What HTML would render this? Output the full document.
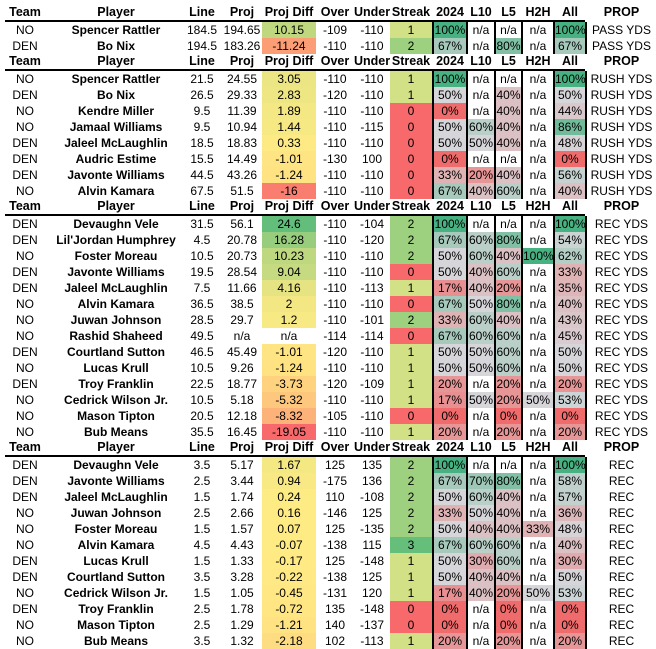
<!DOCTYPE html>
<html><head><meta charset="utf-8"><style>
body{margin:0;background:#fff;width:656px;height:648px;overflow:hidden;font-family:"Liberation Sans",Arial,sans-serif;font-size:12px;color:#000}
#w{position:absolute;top:5px;left:0;width:656px}
.r,.h{display:grid;grid-template-columns:50px 132px 40px 40px 54px 38px 36px 42px 2px 32px 2px 26px 2px 25px 2px 30px 2px 30px 2px 69px;height:16px;line-height:16px;text-align:center;white-space:nowrap}
.h{height:17px;line-height:15px;font-weight:bold;position:relative;font-size:12.5px}
.h:after{content:"";position:absolute;left:5px;width:580px;bottom:0;height:2px;background:#000}
.r i,.h i{font-style:normal;overflow:visible}
.r b{font-weight:bold}
.r u{background:#000}
.h u{background:transparent}
</style></head><body><div id="w">
<div class="h"><i>Team</i><i>Player</i><i>Line</i><i>Proj</i><i>Proj Diff</i><i>Over</i><i>Under</i><i>Streak</i><u></u><i>2024</i><u></u><i>L10</i><u></u><i>L5</i><u></u><i>H2H</i><u></u><i>All</i><u></u><i>PROP</i></div>
<div class="r"><i>NO</i><b>Spencer Rattler</b><i>184.5</i><i>194.65</i><i class="d">10.15</i><i>-109</i><i>-110</i><i class="s">1</i><u></u><i class="p">100%</i><u></u><i class="p">n/a</i><u></u><i class="p">n/a</i><u></u><i class="p">n/a</i><u></u><i class="p">100%</i><u></u><i>PASS YDS</i></div>
<div class="r"><i>DEN</i><b>Bo Nix</b><i>194.5</i><i>183.26</i><i class="d">-11.24</i><i>-110</i><i>-110</i><i class="s">2</i><u></u><i class="p">67%</i><u></u><i class="p">n/a</i><u></u><i class="p">80%</i><u></u><i class="p">n/a</i><u></u><i class="p">67%</i><u></u><i>PASS YDS</i></div>
<div class="h"><i>Team</i><i>Player</i><i>Line</i><i>Proj</i><i>Proj Diff</i><i>Over</i><i>Under</i><i>Streak</i><u></u><i>2024</i><u></u><i>L10</i><u></u><i>L5</i><u></u><i>H2H</i><u></u><i>All</i><u></u><i>PROP</i></div>
<div class="r"><i>NO</i><b>Spencer Rattler</b><i>21.5</i><i>24.55</i><i class="d">3.05</i><i>-110</i><i>-110</i><i class="s">1</i><u></u><i class="p">100%</i><u></u><i class="p">n/a</i><u></u><i class="p">n/a</i><u></u><i class="p">n/a</i><u></u><i class="p">100%</i><u></u><i>RUSH YDS</i></div>
<div class="r"><i>DEN</i><b>Bo Nix</b><i>26.5</i><i>29.33</i><i class="d">2.83</i><i>-120</i><i>-110</i><i class="s">1</i><u></u><i class="p">50%</i><u></u><i class="p">n/a</i><u></u><i class="p">40%</i><u></u><i class="p">n/a</i><u></u><i class="p">50%</i><u></u><i>RUSH YDS</i></div>
<div class="r"><i>NO</i><b>Kendre Miller</b><i>9.5</i><i>11.39</i><i class="d">1.89</i><i>-110</i><i>-110</i><i class="s">0</i><u></u><i class="p">0%</i><u></u><i class="p">n/a</i><u></u><i class="p">40%</i><u></u><i class="p">n/a</i><u></u><i class="p">44%</i><u></u><i>RUSH YDS</i></div>
<div class="r"><i>NO</i><b>Jamaal Williams</b><i>9.5</i><i>10.94</i><i class="d">1.44</i><i>-110</i><i>-115</i><i class="s">0</i><u></u><i class="p">50%</i><u></u><i class="p">60%</i><u></u><i class="p">40%</i><u></u><i class="p">n/a</i><u></u><i class="p">86%</i><u></u><i>RUSH YDS</i></div>
<div class="r"><i>DEN</i><b>Jaleel McLaughlin</b><i>18.5</i><i>18.83</i><i class="d">0.33</i><i>-110</i><i>-110</i><i class="s">0</i><u></u><i class="p">50%</i><u></u><i class="p">50%</i><u></u><i class="p">40%</i><u></u><i class="p">n/a</i><u></u><i class="p">48%</i><u></u><i>RUSH YDS</i></div>
<div class="r"><i>DEN</i><b>Audric Estime</b><i>15.5</i><i>14.49</i><i class="d">-1.01</i><i>-130</i><i>100</i><i class="s">0</i><u></u><i class="p">0%</i><u></u><i class="p">n/a</i><u></u><i class="p">n/a</i><u></u><i class="p">n/a</i><u></u><i class="p">0%</i><u></u><i>RUSH YDS</i></div>
<div class="r"><i>DEN</i><b>Javonte Williams</b><i>44.5</i><i>43.26</i><i class="d">-1.24</i><i>-110</i><i>-110</i><i class="s">0</i><u></u><i class="p">33%</i><u></u><i class="p">20%</i><u></u><i class="p">40%</i><u></u><i class="p">n/a</i><u></u><i class="p">56%</i><u></u><i>RUSH YDS</i></div>
<div class="r"><i>NO</i><b>Alvin Kamara</b><i>67.5</i><i>51.5</i><i class="d">-16</i><i>-110</i><i>-110</i><i class="s">0</i><u></u><i class="p">67%</i><u></u><i class="p">40%</i><u></u><i class="p">60%</i><u></u><i class="p">n/a</i><u></u><i class="p">40%</i><u></u><i>RUSH YDS</i></div>
<div class="h"><i>Team</i><i>Player</i><i>Line</i><i>Proj</i><i>Proj Diff</i><i>Over</i><i>Under</i><i>Streak</i><u></u><i>2024</i><u></u><i>L10</i><u></u><i>L5</i><u></u><i>H2H</i><u></u><i>All</i><u></u><i>PROP</i></div>
<div class="r"><i>DEN</i><b>Devaughn Vele</b><i>31.5</i><i>56.1</i><i class="d">24.6</i><i>-110</i><i>-104</i><i class="s">2</i><u></u><i class="p">100%</i><u></u><i class="p">n/a</i><u></u><i class="p">n/a</i><u></u><i class="p">n/a</i><u></u><i class="p">100%</i><u></u><i>REC YDS</i></div>
<div class="r"><i>DEN</i><b>Lil'Jordan Humphrey</b><i>4.5</i><i>20.78</i><i class="d">16.28</i><i>-110</i><i>-120</i><i class="s">2</i><u></u><i class="p">67%</i><u></u><i class="p">60%</i><u></u><i class="p">80%</i><u></u><i class="p">n/a</i><u></u><i class="p">54%</i><u></u><i>REC YDS</i></div>
<div class="r"><i>NO</i><b>Foster Moreau</b><i>10.5</i><i>20.73</i><i class="d">10.23</i><i>-110</i><i>-110</i><i class="s">2</i><u></u><i class="p">50%</i><u></u><i class="p">60%</i><u></u><i class="p">40%</i><u></u><i class="p">100%</i><u></u><i class="p">62%</i><u></u><i>REC YDS</i></div>
<div class="r"><i>DEN</i><b>Javonte Williams</b><i>19.5</i><i>28.54</i><i class="d">9.04</i><i>-110</i><i>-110</i><i class="s">0</i><u></u><i class="p">50%</i><u></u><i class="p">40%</i><u></u><i class="p">60%</i><u></u><i class="p">n/a</i><u></u><i class="p">33%</i><u></u><i>REC YDS</i></div>
<div class="r"><i>DEN</i><b>Jaleel McLaughlin</b><i>7.5</i><i>11.66</i><i class="d">4.16</i><i>-110</i><i>-113</i><i class="s">1</i><u></u><i class="p">17%</i><u></u><i class="p">40%</i><u></u><i class="p">20%</i><u></u><i class="p">n/a</i><u></u><i class="p">35%</i><u></u><i>REC YDS</i></div>
<div class="r"><i>NO</i><b>Alvin Kamara</b><i>36.5</i><i>38.5</i><i class="d">2</i><i>-110</i><i>-110</i><i class="s">0</i><u></u><i class="p">67%</i><u></u><i class="p">50%</i><u></u><i class="p">80%</i><u></u><i class="p">n/a</i><u></u><i class="p">40%</i><u></u><i>REC YDS</i></div>
<div class="r"><i>NO</i><b>Juwan Johnson</b><i>28.5</i><i>29.7</i><i class="d">1.2</i><i>-110</i><i>-101</i><i class="s">2</i><u></u><i class="p">33%</i><u></u><i class="p">60%</i><u></u><i class="p">40%</i><u></u><i class="p">n/a</i><u></u><i class="p">43%</i><u></u><i>REC YDS</i></div>
<div class="r"><i>NO</i><b>Rashid Shaheed</b><i>49.5</i><i>n/a</i><i class="d">n/a</i><i>-114</i><i>-114</i><i class="s">0</i><u></u><i class="p">67%</i><u></u><i class="p">60%</i><u></u><i class="p">60%</i><u></u><i class="p">n/a</i><u></u><i class="p">45%</i><u></u><i>REC YDS</i></div>
<div class="r"><i>DEN</i><b>Courtland Sutton</b><i>46.5</i><i>45.49</i><i class="d">-1.01</i><i>-120</i><i>-110</i><i class="s">1</i><u></u><i class="p">50%</i><u></u><i class="p">50%</i><u></u><i class="p">60%</i><u></u><i class="p">n/a</i><u></u><i class="p">50%</i><u></u><i>REC YDS</i></div>
<div class="r"><i>NO</i><b>Lucas Krull</b><i>10.5</i><i>9.26</i><i class="d">-1.24</i><i>-110</i><i>-110</i><i class="s">1</i><u></u><i class="p">50%</i><u></u><i class="p">50%</i><u></u><i class="p">60%</i><u></u><i class="p">n/a</i><u></u><i class="p">50%</i><u></u><i>REC YDS</i></div>
<div class="r"><i>DEN</i><b>Troy Franklin</b><i>22.5</i><i>18.77</i><i class="d">-3.73</i><i>-120</i><i>-109</i><i class="s">1</i><u></u><i class="p">20%</i><u></u><i class="p">n/a</i><u></u><i class="p">20%</i><u></u><i class="p">n/a</i><u></u><i class="p">20%</i><u></u><i>REC YDS</i></div>
<div class="r"><i>NO</i><b>Cedrick Wilson Jr.</b><i>10.5</i><i>5.18</i><i class="d">-5.32</i><i>-110</i><i>-110</i><i class="s">1</i><u></u><i class="p">17%</i><u></u><i class="p">50%</i><u></u><i class="p">20%</i><u></u><i class="p">50%</i><u></u><i class="p">53%</i><u></u><i>REC YDS</i></div>
<div class="r"><i>NO</i><b>Mason Tipton</b><i>20.5</i><i>12.18</i><i class="d">-8.32</i><i>-105</i><i>-110</i><i class="s">0</i><u></u><i class="p">0%</i><u></u><i class="p">n/a</i><u></u><i class="p">0%</i><u></u><i class="p">n/a</i><u></u><i class="p">0%</i><u></u><i>REC YDS</i></div>
<div class="r"><i>NO</i><b>Bub Means</b><i>35.5</i><i>16.45</i><i class="d">-19.05</i><i>-110</i><i>-110</i><i class="s">1</i><u></u><i class="p">20%</i><u></u><i class="p">n/a</i><u></u><i class="p">20%</i><u></u><i class="p">n/a</i><u></u><i class="p">20%</i><u></u><i>REC YDS</i></div>
<div class="h"><i>Team</i><i>Player</i><i>Line</i><i>Proj</i><i>Proj Diff</i><i>Over</i><i>Under</i><i>Streak</i><u></u><i>2024</i><u></u><i>L10</i><u></u><i>L5</i><u></u><i>H2H</i><u></u><i>All</i><u></u><i>PROP</i></div>
<div class="r"><i>DEN</i><b>Devaughn Vele</b><i>3.5</i><i>5.17</i><i class="d">1.67</i><i>125</i><i>135</i><i class="s">2</i><u></u><i class="p">100%</i><u></u><i class="p">n/a</i><u></u><i class="p">n/a</i><u></u><i class="p">n/a</i><u></u><i class="p">100%</i><u></u><i>REC</i></div>
<div class="r"><i>DEN</i><b>Javonte Williams</b><i>2.5</i><i>3.44</i><i class="d">0.94</i><i>-175</i><i>136</i><i class="s">2</i><u></u><i class="p">67%</i><u></u><i class="p">70%</i><u></u><i class="p">80%</i><u></u><i class="p">n/a</i><u></u><i class="p">58%</i><u></u><i>REC</i></div>
<div class="r"><i>DEN</i><b>Jaleel McLaughlin</b><i>1.5</i><i>1.74</i><i class="d">0.24</i><i>110</i><i>-108</i><i class="s">2</i><u></u><i class="p">50%</i><u></u><i class="p">60%</i><u></u><i class="p">40%</i><u></u><i class="p">n/a</i><u></u><i class="p">57%</i><u></u><i>REC</i></div>
<div class="r"><i>NO</i><b>Juwan Johnson</b><i>2.5</i><i>2.66</i><i class="d">0.16</i><i>-146</i><i>125</i><i class="s">2</i><u></u><i class="p">33%</i><u></u><i class="p">50%</i><u></u><i class="p">40%</i><u></u><i class="p">n/a</i><u></u><i class="p">36%</i><u></u><i>REC</i></div>
<div class="r"><i>NO</i><b>Foster Moreau</b><i>1.5</i><i>1.57</i><i class="d">0.07</i><i>125</i><i>-135</i><i class="s">2</i><u></u><i class="p">50%</i><u></u><i class="p">40%</i><u></u><i class="p">40%</i><u></u><i class="p">33%</i><u></u><i class="p">48%</i><u></u><i>REC</i></div>
<div class="r"><i>NO</i><b>Alvin Kamara</b><i>4.5</i><i>4.43</i><i class="d">-0.07</i><i>-138</i><i>115</i><i class="s">3</i><u></u><i class="p">67%</i><u></u><i class="p">60%</i><u></u><i class="p">60%</i><u></u><i class="p">n/a</i><u></u><i class="p">40%</i><u></u><i>REC</i></div>
<div class="r"><i>DEN</i><b>Lucas Krull</b><i>1.5</i><i>1.33</i><i class="d">-0.17</i><i>125</i><i>-148</i><i class="s">1</i><u></u><i class="p">50%</i><u></u><i class="p">30%</i><u></u><i class="p">60%</i><u></u><i class="p">n/a</i><u></u><i class="p">30%</i><u></u><i>REC</i></div>
<div class="r"><i>DEN</i><b>Courtland Sutton</b><i>3.5</i><i>3.28</i><i class="d">-0.22</i><i>-138</i><i>125</i><i class="s">1</i><u></u><i class="p">50%</i><u></u><i class="p">40%</i><u></u><i class="p">40%</i><u></u><i class="p">n/a</i><u></u><i class="p">50%</i><u></u><i>REC</i></div>
<div class="r"><i>NO</i><b>Cedrick Wilson Jr.</b><i>1.5</i><i>1.05</i><i class="d">-0.45</i><i>-131</i><i>120</i><i class="s">1</i><u></u><i class="p">17%</i><u></u><i class="p">40%</i><u></u><i class="p">20%</i><u></u><i class="p">50%</i><u></u><i class="p">53%</i><u></u><i>REC</i></div>
<div class="r"><i>DEN</i><b>Troy Franklin</b><i>2.5</i><i>1.78</i><i class="d">-0.72</i><i>135</i><i>-148</i><i class="s">0</i><u></u><i class="p">0%</i><u></u><i class="p">n/a</i><u></u><i class="p">0%</i><u></u><i class="p">n/a</i><u></u><i class="p">0%</i><u></u><i>REC</i></div>
<div class="r"><i>NO</i><b>Mason Tipton</b><i>2.5</i><i>1.29</i><i class="d">-1.21</i><i>140</i><i>-137</i><i class="s">0</i><u></u><i class="p">0%</i><u></u><i class="p">n/a</i><u></u><i class="p">0%</i><u></u><i class="p">n/a</i><u></u><i class="p">0%</i><u></u><i>REC</i></div>
<div class="r"><i>NO</i><b>Bub Means</b><i>3.5</i><i>1.32</i><i class="d">-2.18</i><i>102</i><i>-113</i><i class="s">1</i><u></u><i class="p">20%</i><u></u><i class="p">n/a</i><u></u><i class="p">20%</i><u></u><i class="p">n/a</i><u></u><i class="p">20%</i><u></u><i>REC</i></div>
</div>
<script>
function hx(c){return[parseInt(c.substr(1,2),16),parseInt(c.substr(3,2),16),parseInt(c.substr(5,2),16)]}
function mix(a,b,t){a=hx(a);b=hx(b);t=Math.max(0,Math.min(1,t));return"rgb("+a.map(function(v,i){return Math.round(v+(b[i]-v)*t)}).join(",")+")"}
document.querySelectorAll(".d").forEach(function(e){var v=parseFloat(e.textContent);if(isNaN(v))return;
e.style.background=v>=0?mix("#ffeb84","#63be7b",v/24.6):mix("#ffeb84","#f8696b",v/-19.05)});
var sc={"0":"#f8696b","1":"#d2e086","2":"#9dd07f","3":"#65bf7b"};
document.querySelectorAll(".s").forEach(function(e){e.style.background=sc[e.textContent.trim()]});
document.querySelectorAll(".p").forEach(function(e){var v=parseFloat(e.textContent);if(isNaN(v))return;
e.style.background=v<=50?mix("#f06b6b","#d6d6da",v/50):mix("#d6d6da","#48b181",(v-50)/50)});
</script>
</body></html>
